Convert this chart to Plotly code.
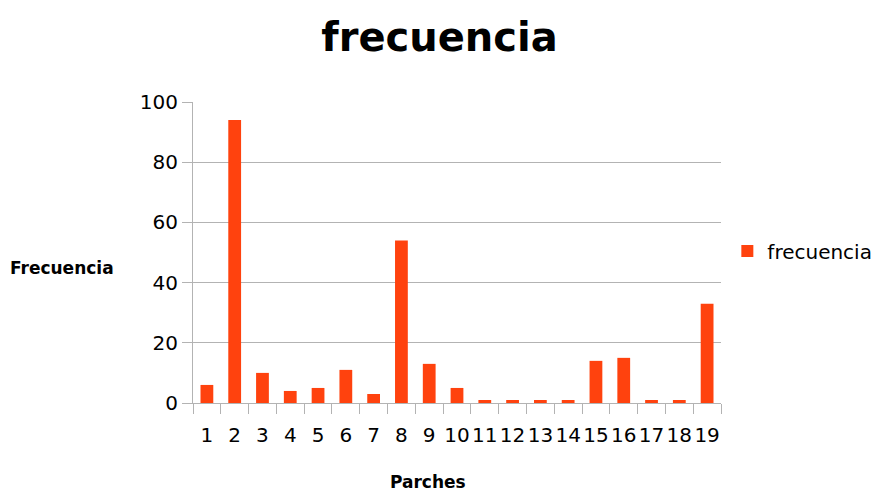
import plotly.graph_objects as go

categories = [str(i) for i in range(1, 20)]
frecuencia = [6, 94, 10, 4, 5, 11, 3, 54, 13, 5, 1, 1, 1, 1, 14, 15, 1, 1, 33]
y_ticks = [0, 20, 40, 60, 80, 100]

FONT = "DejaVu Sans"
GRID = "#b3b3b3"

fig = go.Figure()
fig.add_trace(go.Bar(x=categories, y=frecuencia, name="frecuencia",
                     marker=dict(color="#ff420e", line=dict(width=0)),
                     showlegend=True))

fig.update_layout(
    width=879, height=492,
    margin=dict(l=193, r=158, t=102, b=89, autoexpand=False),
    paper_bgcolor="white", plot_bgcolor="white",
    font=dict(family=FONT, size=20, color="#000000"),
    title=dict(text="<b>frecuencia</b>", x=0.5, xanchor="center",
               y=1 - 37 / 492, yanchor="middle",
               font=dict(family=FONT, size=40, color="#000000")),
    bargap=0.54,
    showlegend=True,
    legend=dict(x=1.012, xanchor="left", y=0.505, yanchor="middle",
                font=dict(family=FONT, size=20, color="#000000"),
                bgcolor="rgba(0,0,0,0)"),
    xaxis=dict(type="category", tickson="boundaries", ticks="outside",
               ticklen=10, tickcolor=GRID, showline=True, linecolor=GRID,
               linewidth=1, showgrid=False, tickfont=dict(size=20),
               tickangle=0, automargin=False, ticklabelstandoff=14),
    yaxis=dict(range=[0, 100], tickvals=y_ticks, ticks="outside",
               ticklen=10, tickcolor=GRID, showline=True, linecolor=GRID,
               linewidth=1, gridcolor=GRID, gridwidth=1, zeroline=False,
               tickfont=dict(size=20), automargin=False),
    annotations=[
        dict(text="<b>Frecuencia</b>", xref="paper", yref="paper",
             x=(62 - 193) / 528, y=(403 - 268) / 301,
             xanchor="center", yanchor="middle", showarrow=False,
             font=dict(family=FONT, size=17, color="#000000")),
        dict(text="<b>Parches</b>", xref="paper", yref="paper",
             x=(428 - 193) / 528, y=(403 - 482) / 301,
             xanchor="center", yanchor="middle", showarrow=False,
             font=dict(family=FONT, size=17, color="#000000")),
    ],
)

fig.write_html("out.html",
               config={"displayModeBar": False},
               post_script="document.body.style.margin='0';document.body.style.padding='0';")
